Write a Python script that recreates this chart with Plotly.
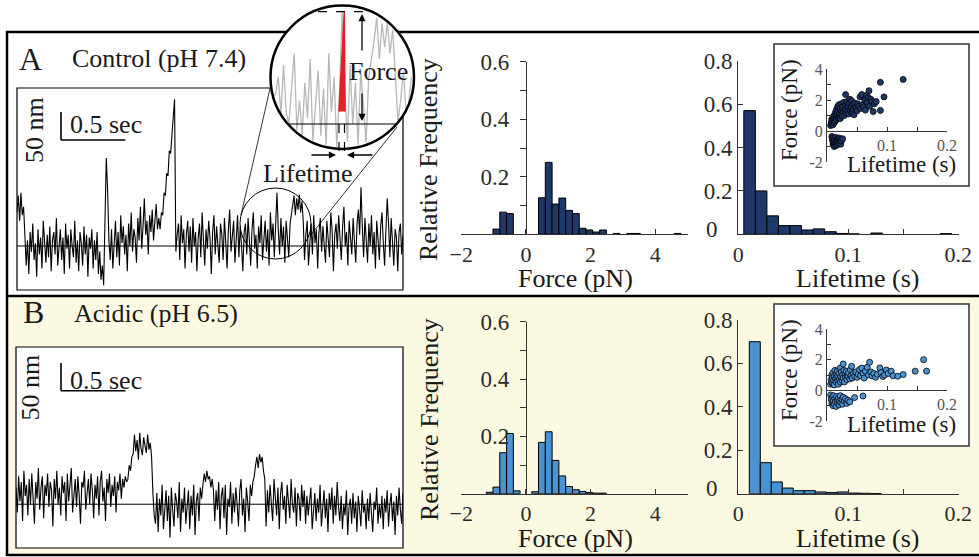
import numpy as np
import plotly.graph_objects as go

W, H = 979, 557
FONT = "Liberation Serif, Times New Roman, serif"


def px(x):
    return x / W


def py(y):
    return 1 - y / H


# ---------------- data ----------------
trace_duration_s = 3.0
# optical-trap displacement traces (nm), sampled uniformly over 3 s
trace_A_nm = [60, 90, 45, 95, 55, 70,
              20, -35, 10, -50, 25, -10, 40, -25, 5, -55, 30, -15, 15, -40, 45, 0, -30, 20, -20, 35,
              -45, 10, 25, -15, 50, -35, 5, 30, -25, 15, -50, 40, -5, 20, -40, 30, 0, -20, 45, -30,
              10, -45, 25, 5, -35, 35, -15, 20, -55, 15, -5, 30, -40, 10, -25, 25, -50, -10,
              -60, -35, -70,
              40, 157, 100, 10,
              -25, 30, -40, 15, 45, -20, 25, -35, 55, 5, 35, -15, 20, -45, 40, 0, 60, -10, 30, 15,
              -30, 50, 10, 70, -5, 35, 85, 20, 45, -15, 55, 25, 65, 10, 40, 75, 30, 50,
              30, 60, 55, 95, 90, 130, 125, 170, 165, 210, 230, 262,
              -10, 20,
              40, -25, 55, 5, 30, -40, 20, 45, -10, 35, -30, 50, 0, 25, -45, 15, 40, -20, 60, 10,
              -35, 30, -5, 45, 15, -50, 25, 55, -15, 35, 0, -30, 40, 20, -25, 50, 5, -40, 30, 65,
              -10, 20, 45, -30, 10, 55, -20, 35, 0, -45, 25, 40, -15, 50, 10, -35, 30, 60, -5, 20,
              -40, 35, 5, 55, -25, 15, 45, -10, 30, -35, 60, 10, 40, -20, 25,
              95,
              30, -15, 50, 0, 35, -30, 45, 15, -20, 40, 55,
              70, 90, 55, 85, 65, 92, 60, 80, 45,
              -25, 20, 45, -35, 10, 40, -15, 55, 5, 30, -40, 25, 50, -10, 35, 0, -30, 45, 15, -20,
              60, 30, -45, 20, 40, -5, 55, 10, -25, 35, 70, 0, 25, -35, 45, 15, -15, 50, 5, -30,
              40, 65, 20,
              105,
              35, -20, 50, 10, -30, 40, 0, 55, -15, 25, -40, 45, 15, -25, 35, 60, 5, -35, 30,
              85,
              40, -20, 50, 5, -35, 30, 15, -45, 25, 40, -15, 20]

trace_B_nm = [30, -15, 50, 5, 40, -30, 60, 15, 35, -20, 45, 0, 55, 20, -35, 40, 10, 65, -10, 30,
              50, -25, 35, 15, 55, -5, 40, 25, -40, 45, 10, 60, 0, 30, -20, 50, 20, 40, -30, 55,
              5, 35, 65, -15, 25, 45, -5, 50, 15, -35, 40, 30, 60, -10, 20, 45, 0, 55, 25, -25,
              35, 10, 50, -20, 40, 60, 5, 30, -30, 45, 20, 55, -5, 35, 15, 50, -15, 40, 25, 55,
              10, 45, 30, 50, 40,
              45, 70, 60, 85,
              90, 125, 95, 115, 80, 128, 100, 88, 120, 105, 92, 125, 98, 110, 85,
              20, -20,
              -35, 20, -50, 10, -20, 35, -45, 0, 25, -30, 15, -60, 30, -10, -40, 20, 5, -25, 40, -50,
              10, -15, 30, -35, 0, 25, -45, 15, -20, 35, -55, 5, 20, -30, 30, 10,
              35, 55, 40, 60, 45, 50, 30, 45, 25,
              -30, 25, -10, 40, -45, 15, 30, -25, 35, -55, 10, -5, 40, -35, 20, -15, 30, 0, -40, 25,
              45, -20, 10, -50, 30, 5, -30, 35, 15, 40,
              50, 70, 85, 65, 90, 75, 85, 60, 45,
              -40, 25, -15, 35, 0, -30, 45, 10, -20, 30, -45, 20, 40, -10, 15, -35, 35, 5, -25, 45,
              0, -15, 30, -40, 20, 10, -30, 35, -5, 25, -35, 15, -20, 5, 30, -45, 0, 20, -30, 10,
              -15, 35, -40, 5, 25, -25, 10, -50, 20, -10, 30, -35, 15, -20, 40, -5,
              -30, 15, -45, 0, -20, 25, -55, -5, 10, -35, 20, -25, 5, -50, 15, -10, -40, 25, -15, 0,
              -45, 10, -30, 20, -20, -50, 5, -10, 30, -35, 0, -25, 15, -45, 10, -15, 25, -40, 0, 20,
              -30, 5, -55, 15, -20, 30, -10, -35, 20]

# force histograms: bins in |F| starting at 0.18 pN, width 0.21 pN
force_bin_start = 0.18
force_bin_width = 0.21
force_A_pos_freq = [0, 0.127, 0.25, 0.105, 0.126, 0.083, 0.072, 0.021, 0.015, 0.008, 0.015, 0,
                    0.003, 0, 0.003, 0.003, 0, 0, 0, 0, 0, 0.003]
force_A_neg_freq = [0, 0.072, 0.077, 0.018]
force_B_pos_freq = [0.007, 0.179, 0.216, 0.116, 0.062, 0.025, 0.014, 0.008, 0.004, 0.002, 0.002]
force_B_neg_freq = [0.01, 0.21, 0.143, 0.023, 0.005]

# lifetime histograms
life_A_start, life_A_width = 0.005, 0.0105
life_A_freq = [0.57, 0.20, 0.085, 0.04, 0.04, 0.02, 0.025, 0.012, 0.004, 0.002, 0, 0.006,
               0, 0, 0, 0, 0, 0.003]
life_B_start, life_B_width = 0.01, 0.01
life_B_freq = [0.70, 0.143, 0.054, 0.026, 0.014, 0.014, 0.008, 0.005, 0.008, 0.003, 0.002, 0.001]

# inset scatter (lifetime s, force pN)
scatA_t = [0.006, 0.007, 0.008, 0.008, 0.009, 0.010, 0.010, 0.011, 0.012, 0.012, 0.013, 0.014, 0.014, 0.015,
           0.016, 0.016, 0.017, 0.018, 0.018, 0.019, 0.020, 0.020, 0.021, 0.022, 0.022, 0.023, 0.024, 0.025,
           0.025, 0.026, 0.027, 0.028, 0.029, 0.030, 0.031, 0.031, 0.032, 0.033, 0.034, 0.035, 0.036, 0.037,
           0.038, 0.039, 0.040, 0.041, 0.042, 0.043, 0.044, 0.045, 0.046, 0.048, 0.050, 0.051, 0.053, 0.055,
           0.056, 0.058, 0.059, 0.061, 0.063, 0.064, 0.066, 0.067, 0.069, 0.070, 0.071, 0.073, 0.075, 0.077,
           0.079, 0.082, 0.089, 0.089, 0.095, 0.127,
           0.008, 0.009, 0.010, 0.010, 0.011, 0.012, 0.012, 0.013, 0.014, 0.014, 0.015, 0.016, 0.017, 0.017,
           0.018, 0.019, 0.020, 0.021, 0.022, 0.023, 0.024, 0.026]
scatA_f = [0.35, 0.55, 0.45, 0.75, 0.6, 0.9, 0.4, 0.7, 1.0, 0.55, 0.8, 1.2, 0.65, 0.95,
           1.4, 0.75, 1.1, 0.85, 1.6, 1.3, 0.9, 1.7, 1.15, 0.8, 1.45, 1.05, 1.75, 1.3,
           0.95, 1.55, 1.2, 1.85, 1.0, 1.4, 2.35, 1.65, 1.15, 1.9, 1.35, 1.6, 1.1, 1.75,
           2.05, 1.3, 1.55, 1.95, 1.2, 1.7, 1.4, 1.05, 1.8, 1.5, 1.3, 1.75, 1.6, 2.2,
           1.45, 2.35, 1.7, 1.55, 2.0, 1.35, 2.3, 1.85, 2.15, 2.6, 1.6, 2.05, 1.9, 1.25,
           1.75, 1.9, 3.14, 1.33, 2.2, 3.33,
           -0.35, -0.6, -0.85, -0.45, -0.7, -1.0, -0.55, -0.8, -0.4, -0.95, -0.65, -0.75, -0.5, -0.9,
           -0.6, -0.8, -0.45, -0.7, -0.55, -0.85, -0.65, -0.5]

scatB_t = [0.006, 0.007, 0.008, 0.008, 0.009, 0.010, 0.010, 0.011, 0.012, 0.012, 0.013, 0.014, 0.015, 0.015,
           0.016, 0.017, 0.018, 0.018, 0.019, 0.020, 0.021, 0.022, 0.022, 0.023, 0.024, 0.025, 0.026, 0.027,
           0.027, 0.028, 0.029, 0.030, 0.031, 0.032, 0.033, 0.034, 0.035, 0.036, 0.038, 0.039, 0.040, 0.041,
           0.042, 0.044, 0.046, 0.048, 0.050, 0.052, 0.054, 0.056, 0.058, 0.060, 0.062, 0.064, 0.067, 0.069,
           0.071, 0.073, 0.075, 0.078, 0.081, 0.084, 0.088, 0.090, 0.093, 0.096, 0.099, 0.102, 0.107, 0.110,
           0.118, 0.127, 0.147, 0.161, 0.166,
           0.006, 0.007, 0.008, 0.009, 0.010, 0.010, 0.011, 0.012, 0.013, 0.014, 0.015, 0.016, 0.017, 0.018,
           0.019, 0.020, 0.021, 0.022, 0.023, 0.025, 0.026, 0.027, 0.029, 0.031, 0.033, 0.035, 0.038, 0.046,
           0.060]
scatB_f = [0.4, 0.7, 0.5, 1.0, 0.8, 0.45, 1.15, 0.65, 0.9, 0.35, 1.3, 0.75, 0.55, 1.05,
           0.85, 1.25, 0.6, 0.95, 0.4, 1.1, 0.75, 1.45, 0.55, 0.9, 1.2, 0.65, 1.0, 1.72,
           0.8, 1.3, 0.55, 1.05, 0.85, 1.25, 0.7, 1.0, 0.9, 1.15, 0.75, 1.35, 0.95, 1.57,
           0.8, 1.1, 0.9, 1.2, 0.85, 1.05, 1.35, 0.95, 1.45, 1.1, 0.8, 1.25, 1.5, 1.0,
           1.83, 1.2, 0.95, 1.1, 0.85, 1.05, 1.46, 1.15, 0.9, 1.0, 1.33, 1.1, 1.25, 0.95,
           0.92, 1.03, 1.25, 2.0, 1.25,
           -0.3, -0.6, -0.85, -0.45, -1.0, -0.7, -0.35, -0.9, -0.55, -0.75, -1.05, -0.4, -0.65, -0.85,
           -0.5, -0.95, -0.7, -0.35, -0.8, -0.6, -0.9, -0.45, -0.7, -0.55, -0.85, -0.65, -0.75, -0.47,
           -0.37]

# magnifier illustration
mag_t_center, mag_t_half = 2.020, 0.276      # s, window of trace A shown in the magnifier
mag_base_v, mag_gain = -0.653, 0.0164        # unit-circle coords; gain per nm
red_spike_u = [-0.042, 0.032, 0.042]
red_spike_v = [-0.48, 0.907, -0.48]

NAVY = "#1d3869"
LBLUE = "#4a93d3"
YELLOW = "#fcf9e2"

fig = go.Figure()

# ---------- traces ----------
tA = np.linspace(0, trace_duration_s, len(trace_A_nm))
tB = np.linspace(0, trace_duration_s, len(trace_B_nm))
fig.add_trace(go.Scatter(x=tA, y=trace_A_nm, mode="lines", line=dict(color="black", width=1.1),
                         xaxis="x", yaxis="y", hoverinfo="skip"))
fig.add_trace(go.Scatter(x=tB, y=trace_B_nm, mode="lines", line=dict(color="black", width=1.1),
                         xaxis="x2", yaxis="y2", hoverinfo="skip"))

# magnified window of trace A
nmA = np.array(trace_A_nm, dtype=float)
u = (tA - mag_t_center) / mag_t_half
sel = np.abs(u) <= 0.97
u = u[sel]
v = mag_base_v + nmA[sel] * mag_gain
lim = np.sqrt(np.clip(1 - u ** 2, 0, None)) * 0.97
v = np.clip(v, -lim, lim)
fig.add_trace(go.Scatter(x=u, y=v, mode="lines", line=dict(color="#b8b8b8", width=1.3),
                         xaxis="x9", yaxis="y9", hoverinfo="skip"))
fig.add_trace(go.Scatter(x=red_spike_u, y=red_spike_v, mode="lines", fill="toself", fillcolor="#e61e28",
                         line=dict(color="#e61e28", width=1.5), xaxis="x9", yaxis="y9", hoverinfo="skip"))


def force_bars(pos, neg):
    xs, ys = [], []
    for k, f in enumerate(pos):
        if f > 0:
            xs.append(force_bin_start + force_bin_width * (k + 0.5))
            ys.append(f)
    for k, f in enumerate(neg):
        if f > 0:
            xs.append(-(force_bin_start + force_bin_width * (k + 0.5)))
            ys.append(f)
    return xs, ys


def life_bars(start, width, freq):
    xs, ys = [], []
    for k, f in enumerate(freq):
        if f > 0:
            xs.append(start + width * (k + 0.5))
            ys.append(f)
    return xs, ys


for (pos, neg, col, xa, ya) in [(force_A_pos_freq, force_A_neg_freq, NAVY, "x3", "y3"),
                                 (force_B_pos_freq, force_B_neg_freq, LBLUE, "x6", "y6")]:
    xs, ys = force_bars(pos, neg)
    fig.add_trace(go.Bar(x=xs, y=ys, width=force_bin_width, marker=dict(color=col, line=dict(color="black", width=1)),
                         xaxis=xa, yaxis=ya, hoverinfo="skip"))

for (st, wd, fr, col, xa, ya) in [(life_A_start, life_A_width, life_A_freq, NAVY, "x4", "y4"),
                                   (life_B_start, life_B_width, life_B_freq, LBLUE, "x7", "y7")]:
    xs, ys = life_bars(st, wd, fr)
    fig.add_trace(go.Bar(x=xs, y=ys, width=wd, marker=dict(color=col, line=dict(color="black", width=1)),
                         xaxis=xa, yaxis=ya, hoverinfo="skip"))

fig.add_trace(go.Scatter(x=scatA_t, y=scatA_f, mode="markers",
                         marker=dict(size=6, color=NAVY, line=dict(color="black", width=0.8)),
                         xaxis="x5", yaxis="y5", hoverinfo="skip"))
fig.add_trace(go.Scatter(x=scatB_t, y=scatB_f, mode="markers",
                         marker=dict(size=6, color=LBLUE, line=dict(color="black", width=0.8)),
                         xaxis="x8", yaxis="y8", hoverinfo="skip"))

# ---------- axes ----------
nm_per_px = 50 / 28
trace_y_range = [-44 * nm_per_px, 158 * nm_per_px]


def hidden(domain, rng, anchor):
    return dict(domain=domain, range=rng, visible=False, anchor=anchor, fixedrange=True, automargin=False)


axc = dict(showline=True, linecolor="#333", linewidth=1.3, showgrid=False, zeroline=False,
           tickcolor="#333", tickwidth=1.2, tickmode="array", fixedrange=True, automargin=False,
           tickfont=dict(size=23, color="#2a2a2a", family=FONT))
xtickfont = dict(size=22, color="#2a2a2a", family=FONT)
insc = dict(axc, tickfont=dict(size=16, color="#555", family=FONT), ticklen=4, ticks="inside",
            linewidth=1.1)

layout = dict(
    template="none",
    width=W, height=H, margin=dict(l=0, r=0, t=0, b=0, pad=0), autosize=False,
    paper_bgcolor="white", plot_bgcolor="rgba(0,0,0,0)", showlegend=False,
    barmode="overlay", font=dict(family=FONT, color="#1a1a1a"),
    xaxis=hidden([px(17), px(403)], [0, trace_duration_s], "y"),
    yaxis=hidden([py(290), py(88)], trace_y_range, "x"),
    xaxis2=hidden([px(16), px(403)], [0, trace_duration_s], "y2"),
    yaxis2=hidden([py(548), py(347)], trace_y_range, "x2"),
    xaxis9=hidden([px(270), px(414)], [-1, 1], "y9"),
    yaxis9=hidden([py(149), py(5)], [-1, 1], "x9"),
)

force_x = dict(axc, range=[-2, 5], ticks="inside", ticklen=5, tickvals=[-2, 0, 2, 4],
               ticktext=["\u22122", "0", "2", "4"], tickfont=xtickfont)
force_y = dict(axc, range=[0, 0.6], ticks="outside", ticklen=6,
               tickvals=[0.1, 0.2, 0.3, 0.4, 0.5, 0.6], ticktext=["", "0.2", "", "0.4", "", "0.6"],
               anchor="free", position=px(526), ticklabelstandoff=6)
life_x = dict(axc, range=[0, 0.2006], ticks="inside", ticklen=5, tickvals=[0, 0.05, 0.1, 0.15, 0.2],
              ticktext=["0", "", "0.1", "", "0.2"], tickfont=xtickfont)
life_y = dict(axc, range=[0, 0.8], ticks="inside", ticklen=5, tickvals=[0, 0.2, 0.4, 0.6, 0.8],
              ticktext=["", "0.2", "0.4", "0.6", "0.8"])
ins_x = dict(insc, range=[0, 0.2], tickvals=[0.05, 0.1, 0.15, 0.2], ticktext=["", "0.1", "", "0.2"],
             anchor="free")
ins_y = dict(insc, range=[-2, 4], tickvals=[-2, -1, 0, 1, 2, 3, 4], ticktext=["-2", "", "0", "", "2", "", "4"])

layout["xaxis3"] = dict(force_x, domain=[px(461.3), px(687.5)], anchor="y3")
layout["yaxis3"] = dict(force_y, domain=[py(234.3), py(61.7)])
layout["xaxis6"] = dict(force_x, domain=[px(461.3), px(687.5)], anchor="y6")
layout["yaxis6"] = dict(force_y, domain=[py(493.7), py(321.7)])
layout["xaxis4"] = dict(life_x, domain=[px(738.3), px(959)], anchor="y4")
layout["yaxis4"] = dict(life_y, domain=[py(234.3), py(60.7)], anchor="x4")
layout["xaxis7"] = dict(life_x, domain=[px(738.3), px(959)], anchor="y7")
layout["yaxis7"] = dict(life_y, domain=[py(493.7), py(320)], anchor="x7")
layout["xaxis5"] = dict(ins_x, domain=[px(827), px(947)], position=py(131))
layout["yaxis5"] = dict(ins_y, domain=[py(162), py(69)], anchor="x5")
layout["xaxis8"] = dict(ins_x, domain=[px(827), px(947)], position=py(390))
layout["yaxis8"] = dict(ins_y, domain=[py(421), py(329)], anchor="x8")

# ---------- shapes ----------
shapes = []


def pline(x0, y0, x1, y1, width=1.0, color="black", dash=None, layer="below"):
    d = dict(type="line", xref="paper", yref="paper", x0=px(x0), y0=py(y0), x1=px(x1), y1=py(y1),
             line=dict(color=color, width=width), layer=layer)
    if dash:
        d["line"]["dash"] = dash
    return d


def prect(x0, y0, x1, y1, fill, lc="black", lw=1.0, typ="rect", layer="below"):
    return dict(type=typ, xref="paper", yref="paper", x0=px(x0), y0=py(y1), x1=px(x1), y1=py(y0),
                fillcolor=fill, line=dict(color=lc, width=lw), layer=layer)


shapes.append(prect(7, 296, 979, 555, YELLOW, lw=0))
shapes.append(pline(7, 31, 7, 556, 2.5))
shapes.append(pline(6, 32, 979, 32, 2.5))
shapes.append(pline(6, 296, 979, 296, 2.5))
shapes.append(pline(6, 555, 979, 555, 2.5))
shapes.append(prect(17, 88, 403, 290, "white", lw=1.2))
shapes.append(prect(16, 347, 403, 548, "white", lw=1.2))
shapes.append(prect(774, 44, 969, 186, "white", lc="#333", lw=1.5))
shapes.append(prect(774, 304, 969, 446, "white", lc="#333", lw=1.5))
shapes.append(prect(240, 188, 311, 259, "rgba(0,0,0,0)", lw=1.0, typ="circle"))
shapes.append(pline(241, 215, 272, 80, 0.8))
shapes.append(pline(310, 236, 397, 127, 0.8))
shapes.append(prect(270.5, 5.5, 414, 149, "white", lw=0, typ="circle"))
shapes.append(prect(270.5, 5.5, 414, 149, "rgba(0,0,0,0)", lw=2.5, typ="circle", layer="above"))

# baselines and scale bars
for xa, ya, t0, nm0 in [("x", "y", (61 - 17) / (386 / 3.0), 106 * nm_per_px),
                        ("x2", "y2", (61 - 16) / (387 / 3.0), 114 * nm_per_px)]:
    shapes.append(dict(type="line", xref=xa + " domain", yref=ya, x0=0, x1=1, y0=0, y1=0,
                       line=dict(color="black", width=1.0)))
    shapes.append(dict(type="line", xref=xa, yref=ya, x0=t0, x1=t0, y0=nm0, y1=nm0 + 50,
                       line=dict(color="black", width=1.6)))
    shapes.append(dict(type="line", xref=xa, yref=ya, x0=t0, x1=t0 + 0.5, y0=nm0, y1=nm0,
                       line=dict(color="black", width=1.6)))

# magnifier details
shapes.append(dict(type="line", xref="x9", yref="y9", x0=-0.333, x1=0.389, y0=0.907, y1=0.907,
                   line=dict(color="black", width=1.2, dash="dash")))
shapes.append(dict(type="line", xref="x9", yref="y9", x0=-0.757, x1=0.757, y0=mag_base_v, y1=mag_base_v,
                   line=dict(color="black", width=1.2)))
shapes.append(pline(339, 124, 339, 153, 1.2, dash="dash", layer="above"))
shapes.append(pline(344.5, 124, 344.5, 153, 1.2, dash="dash", layer="above"))

layout["shapes"] = shapes

# ---------- annotations ----------
ann = []


def txt(x, y, s, size=26, xanchor="center", angle=0, color="#1a1a1a"):
    ann.append(dict(x=px(x), y=py(y), xref="paper", yref="paper", text=s, showarrow=False,
                    xanchor=xanchor, yanchor="middle", textangle=angle,
                    font=dict(size=size, family=FONT, color=color)))


def arrow(xh, yh, dx, dy):
    ann.append(dict(x=px(xh), y=py(yh), xref="paper", yref="paper", text="", showarrow=True,
                    ax=dx, ay=dy, axref="pixel", ayref="pixel", arrowhead=2, arrowsize=1.1,
                    arrowwidth=1.3, arrowcolor="black", standoff=0, startstandoff=0))


txt(30, 59, "A", 32)
txt(70, 59, "Control (pH 7.4)", 26, xanchor="left")
txt(33, 312, "B", 32)
txt(72, 313, "Acidic (pH 6.5)", 26, xanchor="left")
txt(68, 124.5, "0.5 sec", 26, xanchor="left")
txt(34.5, 130.5, "50 nm", 26, angle=-90)
txt(68, 380, "0.5 sec", 26, xanchor="left")
txt(29.5, 388, "50 nm", 26, angle=-90)
txt(308, 173, "Lifetime", 26)
txt(378, 71, "Force", 26)
arrow(362, 14, 0, 38)
arrow(362, 121, 0, -29)
arrow(336, 155, -26, 0)
arrow(347, 155, 27, 0)

for yo in (0, 260):
    txt(429, 160 + yo, "Relative Frequency", 26, angle=-90)
    txt(575, 278 + yo, "Force (pN)", 26)
    txt(857, 278 + yo, "Lifetime (s)", 26)
    txt(789, 110 + yo, "Force (pN)", 23, angle=-90)
    txt(901, 164 + yo, "Lifetime (s)", 23)

for ya in ("y4", "y7"):
    ann.append(dict(x=px(704), y=0, xref="paper", yref=ya, text="0", showarrow=False, xanchor="left",
                    yanchor="middle", yshift=5, font=dict(size=23, family=FONT, color="#2a2a2a")))

layout["annotations"] = ann
fig.update_layout(layout)
fig.write_html("out.html", config={"displayModeBar": False})
